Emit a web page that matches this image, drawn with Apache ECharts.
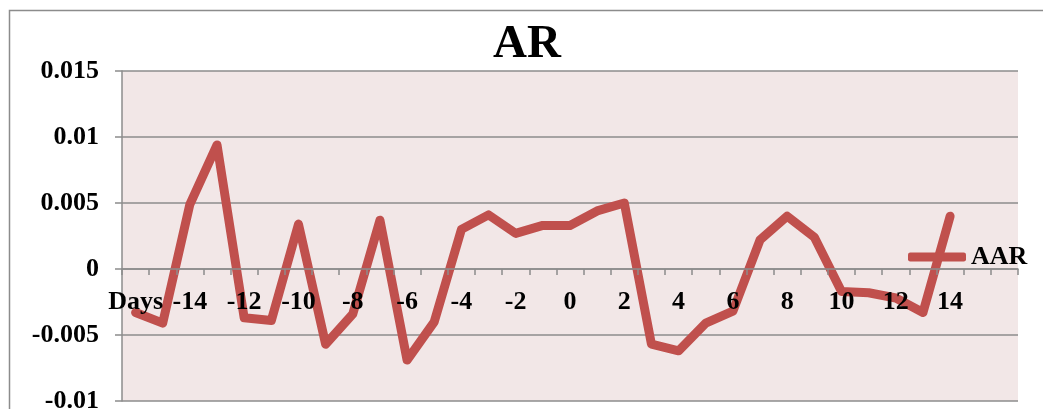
<!DOCTYPE html>
<html>
<head>
<meta charset="utf-8">
<style>
html,body{margin:0;padding:0;background:#fff;}
#c{width:1043px;height:409px;}
</style>
<script src="https://cdn.jsdelivr.net/npm/echarts@6/dist/echarts.min.js"></script>
</head>
<body>
<div id="c"></div>
<script>
const categories = ["Days","-15","-14","-13","-12","-11","-10","-9","-8","-7","-6","-5","-4","-3","-2","-1","0","1","2","3","4","5","6","7","8","9","10","11","12","13","14","",""];
const aarValues = [-0.0033,-0.0041,0.0049,0.0094,-0.0037,-0.0039,0.0034,-0.0057,-0.0034,0.0037,-0.0069,-0.0040,0.0030,0.0041,0.0027,0.0033,0.0033,0.0044,0.0050,-0.0057,-0.0062,-0.0041,-0.0032,0.0022,0.0040,0.0024,-0.0017,-0.0018,-0.0022,-0.0033,0.0040,null,null];
const seriesName = "AAR";
const titleText = "AR";

const font = "'Liberation Serif','Times New Roman',serif";
const chart = echarts.init(document.getElementById('c'));
chart.setOption({
  animation: false,
  backgroundColor: '#ffffff',
  graphic: [{
    type: 'rect', z: 100, silent: true,
    shape: {x: 9.5, y: 10.5, width: 1200, height: 600},
    style: {fill: 'none', stroke: '#8c8c8c', lineWidth: 1.5}
  }],
  title: {
    text: titleText, left: 488, top: 16,
    textStyle: {fontFamily: font, fontWeight: 'bold', fontSize: 47, color: '#000'}
  },
  legend: {
    data: [seriesName], left: 903, top: 239,
    icon: 'roundRect', itemWidth: 58, itemHeight: 9,
    textStyle: {fontFamily: font, fontWeight: 'bold', fontSize: 26, color: '#000'}
  },
  grid: {left: 122, right: 25, top: 71, bottom: 8, containLabel: false,
    outerBoundsMode: 'none',
    show: true, backgroundColor: '#F2E7E7', borderWidth: 0},
  xAxis: {
    type: 'category', data: categories, boundaryGap: true, z: 10,
    axisLine: {onZero: true, lineStyle: {color: '#8c8c8c', width: 1.5}},
    axisTick: {show: true, interval: 0, length: 6, lineStyle: {color: '#8c8c8c', width: 1.5}},
    axisLabel: {interval: 1, margin: -112, hideOverlap: false, fontFamily: font, fontWeight: 'bold', fontSize: 26, color: '#000'},
    splitLine: {show: false}
  },
  yAxis: {
    type: 'value', min: -0.01, max: 0.015, interval: 0.005,
    axisLine: {show: true, lineStyle: {color: '#8c8c8c', width: 1.5}},
    axisTick: {show: true, length: 7, lineStyle: {color: '#8c8c8c', width: 1.5}},
    axisLabel: {margin: 23, fontFamily: font, fontWeight: 'bold', fontSize: 26, color: '#000'},
    splitLine: {show: true, lineStyle: {color: '#8c8c8c', width: 1.5}}
  },
  series: [{
    name: seriesName, type: 'line', data: aarValues, z: 3,
    symbol: 'none', color: '#C0504D',
    lineStyle: {width: 9, color: '#C0504D', cap: 'round', join: 'round'}
  }]
});
</script>
</body>
</html>
